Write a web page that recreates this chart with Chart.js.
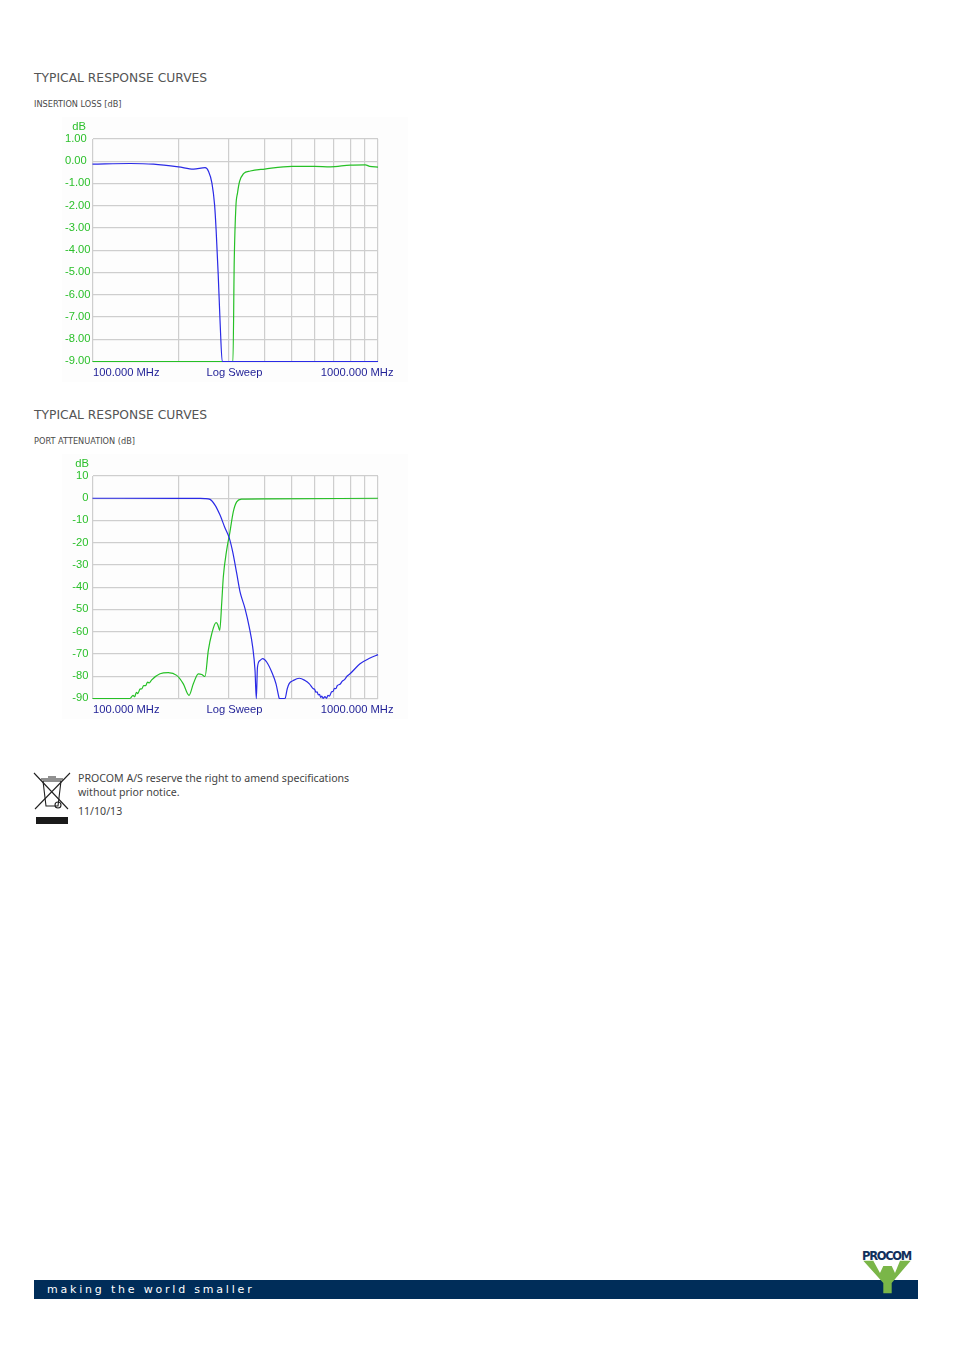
<!DOCTYPE html>
<html>
<head>
<meta charset="utf-8">
<title>Typical response curves</title>
<script src="https://cdn.jsdelivr.net/npm/chart.js@4/dist/chart.umd.min.js"></script>
<style>
  html, body { margin: 0; padding: 0; background: #fff; overflow: hidden; }
  #page { position: relative; width: 954px; height: 1351px; overflow: hidden; }
  #page div, #page canvas, #page svg { position: absolute; }
  .head { left: 34px; font: 12.3px "DejaVu Sans", sans-serif; color: #555; white-space: nowrap; }
  .sub { left: 34px; font: 8.2px "DejaVu Sans", sans-serif; color: #4a4a4a; white-space: nowrap; }
  .note { left: 78px; font: 10.6px "Noto Sans", sans-serif; color: #444; white-space: nowrap; }
  canvas { background: #fdfdfd; }
</style>
</head>
<body>
<div id="page">
  <div class="head" style="top:71px">TYPICAL RESPONSE CURVES</div>
  <div class="sub" style="top:99px">INSERTION LOSS [dB]</div>
  <canvas id="lossChart" width="346" height="265" style="left:62px;top:117px"></canvas>

  <div class="head" style="top:408px">TYPICAL RESPONSE CURVES</div>
  <div class="sub" style="top:436px">PORT ATTENUATION (dB]</div>
  <canvas id="portChart" width="346" height="265" style="left:62px;top:454px"></canvas>

  <svg width="40" height="54" viewBox="0 0 40 54" style="left:33px;top:772px">
    <g fill="none" stroke="#222" stroke-width="1.1">
      <path d="M1 1 L35 37 M37 1 L2 37"/>
      <path d="M10 9 H28 L25 34 H13 Z"/>
      <path d="M8 7 H30 M15 5 H23"/>
      <circle cx="25" cy="33" r="3"/>
    </g>
    <rect x="3" y="45" width="32" height="7" fill="#1a1a1a"/>
  </svg>
  <div class="note" style="top:771px">PROCOM A/S reserve the right to amend specifications</div>
  <div class="note" style="top:785px">without prior notice.</div>
  <div class="note" style="top:804px">11/10/13</div>

  <div style="left:34px;top:1280px;width:884px;height:19px;background:#002d59"></div>
  <div style="left:47px;top:1283px;font:11px 'DejaVu Sans',sans-serif;letter-spacing:2.8px;color:#fff;white-space:nowrap">making the world smaller</div>
  <div style="left:862px;top:1249px;font:bold 11.5px 'DejaVu Sans',sans-serif;letter-spacing:-1.3px;color:#12305c;white-space:nowrap">PROCOM</div>
  <svg width="50" height="36" viewBox="0 0 50 36" style="left:862px;top:1260px">
    <polygon points="1.3,0.7 11.3,0.7 18,13 21.3,6 29.7,6 33,13 38,0.7 48.7,0.7 29.7,23 29.7,33.3 21.3,33.3 21.3,23" fill="#7ab648"/>
  </svg>
</div>

<script>
// gridlines and axis ranges
const gridMHz = [100, 200, 300, 400, 500, 600, 700, 800, 900, 1000];
const lossTicks = [1, 0, -1, -2, -3, -4, -5, -6, -7, -8, -9];
const portTicks = [10, 0, -10, -20, -30, -40, -50, -60, -70, -80, -90];
const sweepLabels = ["100.000 MHz", "Log Sweep", "1000.000 MHz"];

// insertion loss
const lossBlueMHz = [100, 135.5, 163.6, 200, 226, 248, 255, 262, 267.7, 271, 275.5, 280, 284.7, 1000];
const lossBlueDb = [-0.13, -0.10, -0.13, -0.25, -0.35, -0.29, -0.46, -0.98, -1.96, -3.08, -5.04, -7.3, -9, -9];
const lossGreenMHz = [100, 310.4, 313.7, 317.9, 322, 327.4, 338, 357, 401, 499.5, 600, 680.7, 800, 903, 935, 1000];
const lossGreenDb = [-9, -9, -4.44, -2.03, -1.43, -0.91, -0.56, -0.44, -0.35, -0.23, -0.23, -0.25, -0.17, -0.16, -0.23, -0.26];

// port attenuation, the wobbles near the minima are in the trace
const portBlueMHz = [100, 200, 238.5, 247.8, 258, 268.6, 279.7, 291.2, 301.4, 309.8, 319.9, 328.7, 342, 354, 364, 370.9, 374.8, 378.3, 386, 394.5, 407.4, 424.4, 439.3, 448.9, 451, 472.3, 481, 489, 505, 530, 555, 575, 593.4, 600, 606, 612, 618, 624, 630, 636, 642, 652, 660, 668, 676, 688, 696, 704, 712, 720, 736, 750, 765, 780, 798, 865, 938, 1000];
const portBlueDb = [0, -0.05, -0.1, -0.15, -0.5, -3.06, -7.57, -13.4, -17.9, -24.1, -33.7, -42.1, -49.5, -57.9, -66.9, -77.4, -90, -75.9, -72.9, -72.1, -73.6, -78.1, -83.4, -89, -90, -90, -85.6, -83.2, -81.9, -80.9, -81.9, -83.4, -85.6, -85.9, -87.2, -87, -88.4, -88.1, -89.5, -88.9, -89.9, -89.2, -89.9, -88.6, -88.9, -87, -86.8, -85.4, -85.6, -84.2, -83.6, -82.2, -81.4, -79.9, -78.9, -74.4, -71.8, -70.3];
const portGreenMHz = [100, 135.3, 138.7, 140.5, 142.5, 144, 146.7, 149, 151, 153.5, 156, 158, 161.2, 172.4, 184.3, 197.2, 208, 217.8, 225.5, 234.8, 241.3, 247.8, 254.5, 261.6, 270.8, 274.5, 279, 283.5, 287.2, 295.1, 303, 311.2, 319.9, 333, 401, 1000];
const portGreenDb = [-90, -90, -88.6, -89.2, -87.2, -87.8, -85.8, -85.6, -84.2, -84.2, -82.6, -83, -81.6, -78.9, -78.4, -79.6, -83.4, -88.6, -83.4, -78.9, -79.2, -80.1, -68.4, -60.9, -55.9, -56.7, -59.4, -47.2, -35.4, -23.3, -15.1, -6.1, -1.6, -0.4, -0.3, 0];

const green = "#26c026";
const blue = "#2a2ae6";
const tickGreen = "#2cc02c";
const labelBlue = "#1f1f96";
const gridColor = "#cecece";
const fontName = "'Liberation Sans', Arial, sans-serif";

const toPoints = (xs, ys) => xs.map((x, i) => ({ x: x, y: ys[i] }));

// dB caption and the sweep labels under the plot
const captionPlugin = {
  id: "captions",
  afterDraw(chart, args, opts) {
    const ctx = chart.ctx;
    const area = chart.chartArea;
    ctx.save();
    ctx.font = "11.2px " + fontName;
    ctx.textBaseline = "middle";
    ctx.fillStyle = tickGreen;
    ctx.textAlign = "right";
    ctx.fillText("dB", area.left + opts.dbOffset, area.top - 12);
    ctx.fillStyle = labelBlue;
    const y = area.bottom + 11.5;
    ctx.textAlign = "left";
    ctx.fillText(sweepLabels[0], area.left + 0.5, y);
    ctx.textAlign = "center";
    ctx.fillText(sweepLabels[1], area.left + 142, y);
    ctx.textAlign = "right";
    ctx.fillText(sweepLabels[2], area.right + 15.5, y);
    ctx.restore();
  },
};

function makeChart(id, blueLine, greenLine, yTicks, fmt, cross, dbOffset, tickPad) {
  new Chart(document.getElementById(id), {
    type: "line",
    data: {
      datasets: [
        { data: blueLine, borderColor: blue, borderWidth: 1.2, pointRadius: 0, clip: 3, cubicInterpolationMode: "monotone" },
        { data: greenLine, borderColor: green, borderWidth: 1.2, pointRadius: 0, clip: 3, cubicInterpolationMode: "monotone" },
      ],
    },
    options: {
      responsive: false,
      animation: false,
      events: [],
      layout: { padding: { left: 3, right: 30, top: 22, bottom: 20.5 } },
      plugins: { legend: { display: false }, tooltip: { enabled: false }, captions: { dbOffset: dbOffset } },
      scales: {
        x: {
          type: "logarithmic",
          min: 100,
          max: 1000,
          afterBuildTicks: (scale) => { scale.ticks = gridMHz.map((v) => ({ value: v })); },
          ticks: { display: false },
          grid: { color: gridColor, lineWidth: 1.2, drawTicks: false },
          border: { display: false },
        },
        y: {
          min: yTicks[yTicks.length - 1],
          max: yTicks[0],
          afterBuildTicks: (scale) => { scale.ticks = yTicks.map((v) => ({ value: v })); },
          afterFit: (scale) => { scale.width = 27.5; },
          ticks: {
            color: tickGreen,
            font: { size: 11.2, family: fontName },
            padding: tickPad,
            labelOffset: -0.3,
            crossAlign: cross,
            autoSkip: false,
            callback: fmt,
          },
          grid: { color: gridColor, lineWidth: 1.2, drawTicks: false },
          border: { display: false },
        },
      },
    },
    plugins: [captionPlugin],
  });
}

makeChart("lossChart", toPoints(lossBlueMHz, lossBlueDb), toPoints(lossGreenMHz, lossGreenDb), lossTicks, (v) => v.toFixed(2), "far", -6.5, 3);
makeChart("portChart", toPoints(portBlueMHz, portBlueDb), toPoints(portGreenMHz, portGreenDb), portTicks, (v) => String(v), "near", -3.5, 4);
</script>
</body>
</html>
